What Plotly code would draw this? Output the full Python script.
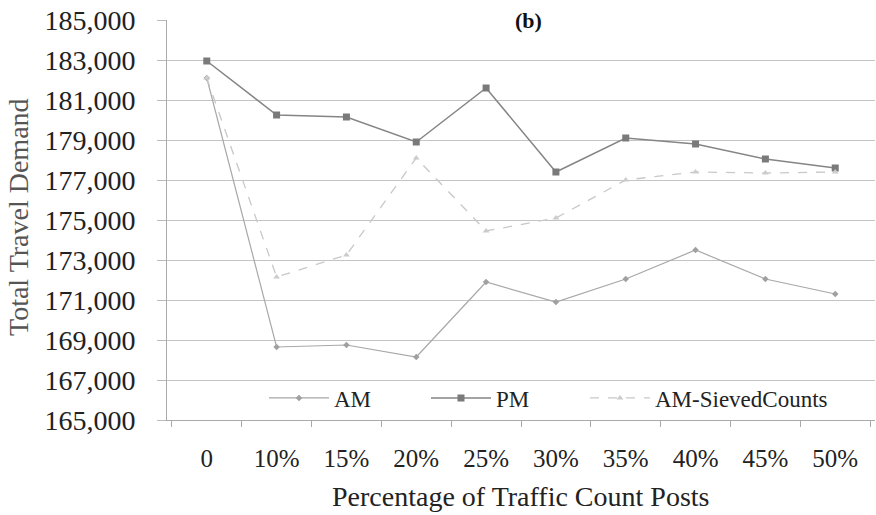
import plotly.graph_objects as go

categories = ["0", "10%", "15%", "20%", "25%", "30%", "35%", "40%", "45%", "50%"]
am = [182100, 168650, 168750, 168150, 171900, 170900, 172050, 173500, 172050, 171300]
pm = [182950, 180250, 180150, 178900, 181600, 177400, 179100, 178800, 178050, 177600]
am_sieved = [182100, 172150, 173250, 178100, 174450, 175100, 177000, 177400, 177350, 177400]
y_ticks = list(range(165000, 185001, 2000))
y_tick_labels = [f"{v:,}" for v in y_ticks]

FONT = "Liberation Serif, Times New Roman, serif"
W, H = 876, 515
L, T = 167, 20
PW, PH = 708, 400
R = W - L - PW
B = H - T - PH


def px_x(px):
    return (px - L) / PW


def px_y(py):
    return (H - B - py) / PH


fig = go.Figure()
fig.add_trace(go.Scatter(
    x=categories, y=am, name="AM", mode="lines+markers", legend="legend",
    line=dict(color="#a8a8a8", width=1.2),
    marker=dict(symbol="diamond", size=5, color="#a0a0a0"),
))
fig.add_trace(go.Scatter(
    x=categories, y=pm, name="PM", mode="lines+markers", legend="legend2",
    line=dict(color="#858585", width=1.5),
    marker=dict(symbol="square", size=7, color="#7a7a7a"),
))
fig.add_trace(go.Scatter(
    x=categories, y=am_sieved, name="AM-SievedCounts", mode="lines+markers",
    legend="legend3",
    line=dict(color="#c8c8c8", width=1.3, dash="dash"),
    marker=dict(symbol="triangle-up", size=6, color="#cccccc"),
))

leg_common = dict(
    orientation="h", yanchor="middle", xanchor="left",
    font=dict(family=FONT, size=23, color="#222222"),
    bgcolor="rgba(255,255,255,0)", itemwidth=60,
)

fig.update_layout(
    width=W, height=H,
    margin=dict(l=L, r=R, t=T, b=B),
    paper_bgcolor="white", plot_bgcolor="white",
    font=dict(family=FONT, color="#222222"),
    showlegend=True,
    legend=dict(x=px_x(264), y=px_y(398), **leg_common),
    legend2=dict(x=px_x(426), y=px_y(398), **leg_common),
    legend3=dict(x=px_x(585), y=px_y(398), **leg_common),
    annotations=[
        dict(text="<b>(b)</b>", x=px_x(528), y=px_y(20), xref="paper", yref="paper",
             xanchor="center", yanchor="middle", showarrow=False,
             font=dict(family=FONT, size=22, color="#111111"),
             bgcolor="white"),
        dict(text="Total Travel Demand", x=px_x(18), y=px_y(217),
             xref="paper", yref="paper", xanchor="center", yanchor="middle",
             textangle=-90, showarrow=False,
             font=dict(family=FONT, size=28, color="#555555")),
        dict(text="Percentage of Traffic Count Posts", x=px_x(520), y=px_y(496),
             xref="paper", yref="paper", xanchor="center", yanchor="middle",
             showarrow=False,
             font=dict(family=FONT, size=28, color="#222222")),
    ],
)
fig.update_xaxes(
    type="category", tickson="boundaries", ticks="outside", ticklen=6,
    tickcolor="#aaaaaa", showline=True, linecolor="#aaaaaa", linewidth=1,
    showgrid=False, ticklabelstandoff=16,
    tickfont=dict(family=FONT, size=25, color="#222222"),
)
fig.update_yaxes(
    range=[165000, 185000], tickvals=y_ticks, ticktext=y_tick_labels,
    ticks="outside", ticklen=9, tickcolor="#bbbbbb",
    showline=True, linecolor="#aaaaaa", linewidth=1,
    showgrid=True, gridcolor="#c4c4c4", gridwidth=1,
    zeroline=False, ticklabelstandoff=16,
    tickfont=dict(family=FONT, size=28, color="#222222"),
)

fig.write_html("out.html", config={"displayModeBar": False},
               post_script="document.body.style.margin='0px';")
